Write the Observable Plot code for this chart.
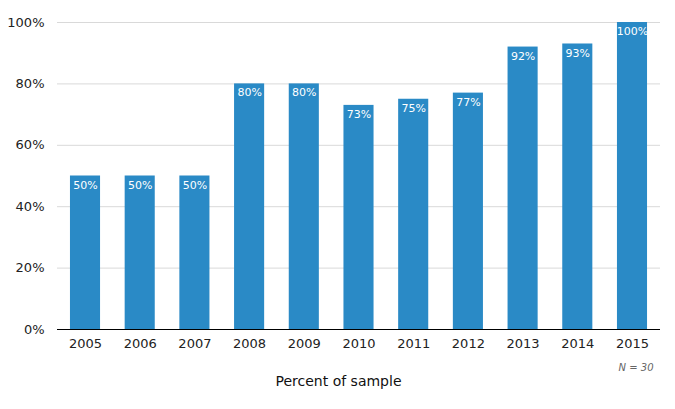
<!DOCTYPE html>
<html><head><meta charset="utf-8">
<script src="https://cdn.jsdelivr.net/npm/d3@7"></script>
<script src="https://cdn.jsdelivr.net/npm/@observablehq/plot@0.6"></script>
<style>body{margin:0;background:#fff;font-family:"DejaVu Sans",Verdana,sans-serif}</style>
</head><body><div id="chart"></div>
<script>
const years = ["2005","2006","2007","2008","2009","2010","2011","2012","2013","2014","2015"];
const values = [50,50,50,80,80,73,75,77,92,93,100];
const yTicks = [0,20,40,60,80,100];
const data = years.map((y,i)=>({year:y, value:values[i]}));
const chart = Plot.plot({
  width:675, height:409,
  marginTop:22, marginBottom:80, marginLeft:57, marginRight:15,
  style:{fontFamily:"DejaVu Sans, Verdana, sans-serif", fontSize:"13px", color:"#222", background:"#fff"},
  x:{domain:years, paddingInner:0.45, paddingOuter:0.237, align:0.5, round:false, label:null, tickSize:0, tickPadding:9},
  y:{domain:[0,100], ticks:yTicks, tickFormat:d=>d+"%", label:null, tickSize:0, tickPadding:13},
  marks:[
    Plot.gridY(yTicks.filter(d=>d>0), {stroke:"#d9d9d9", strokeOpacity:1}),
    Plot.barY(data, {x:"year", y:"value", fill:"#2a8ac6"}),
    Plot.ruleY([0], {stroke:"#000"}),
    Plot.text(data, {x:"year", y:"value", text:d=>d.value+"%", fill:"#fff", dy:9, fontSize:11}),
    Plot.text(["Percent of sample"], {frameAnchor:"bottom-left", dx:281, dy:56, textAnchor:"middle", fontSize:14, fill:"#111"}),
    Plot.text(["N = 30"], {frameAnchor:"bottom-right", dx:-7, dy:41, textAnchor:"end", fontSize:10, fontStyle:"italic", fill:"#666"})
  ]
});
document.getElementById("chart").append(chart);
</script></body></html>
